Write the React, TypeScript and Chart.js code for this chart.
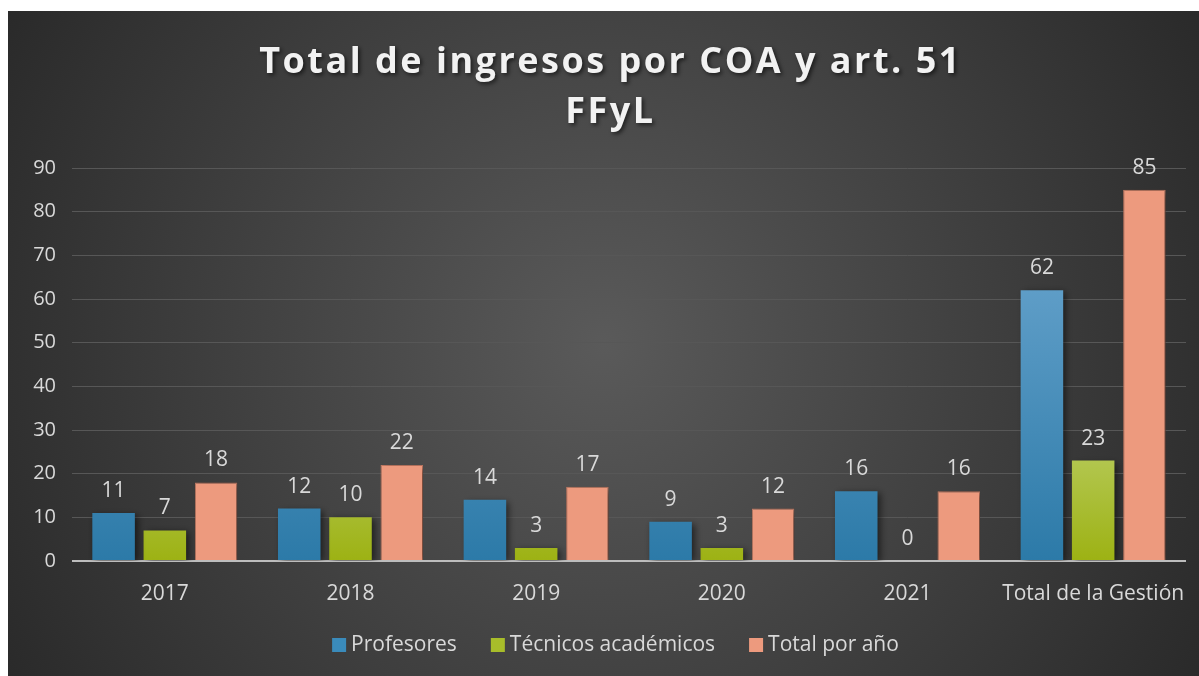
import React, { useEffect, useRef } from "react";
import { Chart, registerables } from "chart.js";

Chart.register(...registerables);

const categories = ["2017", "2018", "2019", "2020", "2021", "Total de la Gestión"];
const profesores = [11, 12, 14, 9, 16, 62];
const tecnicos = [7, 10, 3, 3, 0, 23];
const totalPorAnio = [18, 22, 17, 12, 16, 85];
const seriesNames = ["Profesores", "Técnicos académicos", "Total por año"];
const titleLines = ["Total de ingresos por COA y art. 51", "FFyL"];
const yMin = 0;
const yMax = 90;
const yStep = 10;

const FONT = "'Open Sans', 'Noto Sans', sans-serif";
const TEXT = "#d9d9d9";

const gradients: Array<[string, string] | null> = [
  ["#5e9dc7", "#2c7aa8"],
  ["#b2c64e", "#9db214"],
  null,
];

const bgPlugin = {
  id: "bg",
  beforeDraw(chart: any) {
    const { ctx, width, height } = chart;
    ctx.save();
    const g = ctx.createRadialGradient(width * 0.5, height * 0.5, 0, width * 0.5, height * 0.5, width * 0.62);
    g.addColorStop(0, "#5a5a5a");
    g.addColorStop(1, "#262626");
    ctx.fillStyle = g;
    ctx.fillRect(0, 0, width, height);
    // title
    ctx.fillStyle = "#f2f2f2";
    ctx.textAlign = "center";
    ctx.textBaseline = "alphabetic";
    ctx.font = `bold 36px ${FONT}`;
    (ctx as any).letterSpacing = "2.5px";
    ctx.shadowColor = "rgba(0,0,0,0.6)";
    ctx.shadowBlur = 4;
    ctx.shadowOffsetX = 2;
    ctx.shadowOffsetY = 2;
    ctx.fillText(titleLines[0], width / 2 + 7, 62);
    ctx.fillText(titleLines[1], width / 2 + 7, 112);
    ctx.restore();
  },
  beforeDatasetsDraw(chart: any) {
    const { ctx } = chart;
    chart.data.datasets.forEach((ds: any, i: number) => {
      const stops = gradients[i];
      if (!stops) return;
      const meta = chart.getDatasetMeta(i);
      meta.data.forEach((el: any) => {
        const top = Math.min(el.y, el.base);
        const bot = Math.max(el.y, el.base);
        if (bot - top < 1) return;
        const g = ctx.createLinearGradient(0, top, 0, bot);
        g.addColorStop(0, stops[0]);
        g.addColorStop(1, stops[1]);
        el.options.backgroundColor = g;
      });
    });
    ctx.save();
    ctx.shadowColor = "rgba(0,0,0,0.55)";
    ctx.shadowBlur = 7;
    ctx.shadowOffsetX = 3;
    ctx.shadowOffsetY = 2;
  },
  afterDatasetsDraw(chart: any) {
    const { ctx } = chart;
    ctx.restore();
    ctx.save();
    ctx.fillStyle = TEXT;
    ctx.font = `21px ${FONT}`;
    ctx.textAlign = "center";
    ctx.textBaseline = "alphabetic";
    chart.data.datasets.forEach((ds: any, i: number) => {
      const meta = chart.getDatasetMeta(i);
      meta.data.forEach((el: any, j: number) => {
        ctx.fillText(String(ds.data[j]), el.x, el.y - 16);
      });
    });
    ctx.restore();
  },
  afterDraw(chart: any) {
    // legend
    const { ctx } = chart;
    ctx.save();
    ctx.font = `21px ${FONT}`;
    ctx.textBaseline = "middle";
    ctx.textAlign = "left";
    const box = 14;
    const gapText = 5;
    const gapItem = 34;
    const widths = chart.data.datasets.map((ds: any) => ctx.measureText(ds.label).width);
    const total = widths.reduce((a: number, w: number) => a + w + box + gapText, 0) + gapItem * (widths.length - 1);
    let x = 607.5 - total / 2;
    const cy = 634;
    chart.data.datasets.forEach((ds: any, i: number) => {
      ctx.fillStyle = ds.backgroundColor;
      ctx.fillRect(x, cy - box / 2, box, box);
      x += box + gapText;
      ctx.fillStyle = TEXT;
      ctx.fillText(ds.label, x, cy);
      x += widths[i] + gapItem;
    });
    ctx.restore();
  },
};

export default function App() {
  const ref = useRef<HTMLCanvasElement | null>(null);
  useEffect(() => {
    if (!ref.current) return;
    const chart = new Chart(ref.current, {
      type: "bar",
      data: {
        labels: categories,
        datasets: [
          { label: seriesNames[0], data: profesores, backgroundColor: "#3a8bbb", borderWidth: 0 },
          { label: seriesNames[1], data: tecnicos, backgroundColor: "#a8bd2a", borderWidth: 0 },
          { label: seriesNames[2], data: totalPorAnio, backgroundColor: "#ed9a7e", borderColor: "#c67d66", borderWidth: 1 },
        ],
      },
      plugins: [bgPlugin],
      options: {
        animation: false,
        responsive: false,
        maintainAspectRatio: false,
        devicePixelRatio: 1,
        layout: { padding: { top: 157, right: 13, left: 0, bottom: 55 } },
        datasets: { bar: { categoryPercentage: 0.828, barPercentage: 0.83 } },
        plugins: {
          title: { display: false },
          tooltip: { enabled: false },
          legend: { display: false },
        },
        scales: {
          x: {
            grid: { display: false },
            border: { display: false },
            ticks: { color: TEXT, font: { family: FONT, size: 21 }, padding: 12, maxRotation: 0 },
            afterFit(scale: any) {
              scale.height = 60;
            },
          },
          y: {
            min: yMin,
            max: yMax,
            border: { display: false },
            grid: {
              drawTicks: false,
              color: (c: any) => (c.tick && c.tick.value === 0 ? "#bdbdbd" : "#575757"),
              lineWidth: (c: any) => (c.tick && c.tick.value === 0 ? 2 : 1),
            },
            ticks: { stepSize: yStep, color: TEXT, font: { family: FONT, size: 20 }, padding: 16 },
            afterFit(scale: any) {
              scale.width = 64;
            },
          },
        },
      },
    });
    return () => chart.destroy();
  }, []);
  return (
    <div style={{ position: "fixed", left: 8, top: 11, width: 1191, height: 665 }}>
      <canvas ref={ref} width={1191} height={665} style={{ display: "block", width: 1191, height: 665 }} />
    </div>
  );
}
